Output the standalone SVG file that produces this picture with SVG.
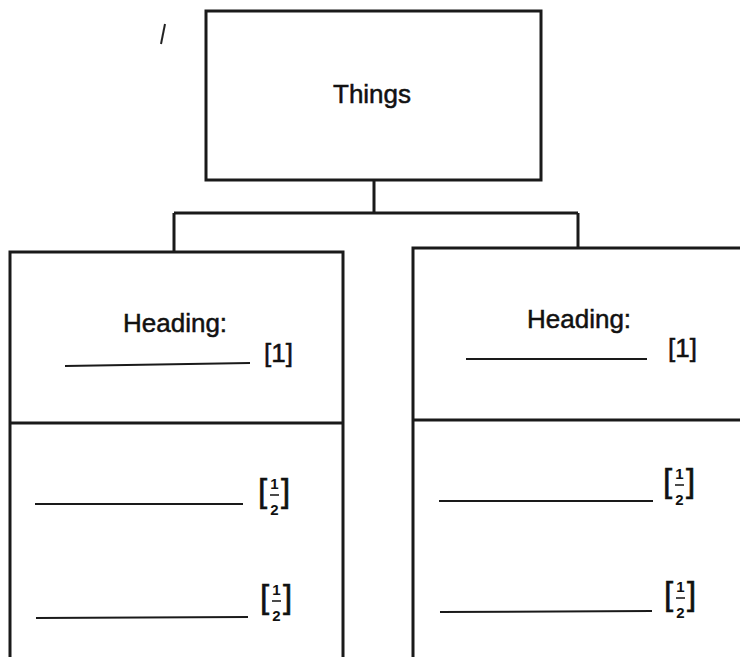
<svg xmlns="http://www.w3.org/2000/svg" width="740" height="657" viewBox="0 0 740 657">
<style>
.box{fill:#fff;stroke:#1a1a1a;stroke-width:3}
.conn{fill:none;stroke:#1a1a1a;stroke-width:3}
.blank{stroke:#1a1a1a;stroke-width:2;fill:none}
.lbl{font-family:"Liberation Sans",Arial,sans-serif;font-size:26px;fill:#111;stroke:#111;stroke-width:0.5}
.br{font-family:"Liberation Sans",Arial,sans-serif;font-size:33px;fill:#111;stroke:#111;stroke-width:0.6}
.num{font-family:"Liberation Sans",Arial,sans-serif;font-size:15px;font-weight:bold;fill:#111;text-anchor:middle}
.bar{stroke:#111;stroke-width:1.5}
</style>
<rect width="740" height="657" fill="#fff"/>
<line x1="165" y1="24" x2="161" y2="44" stroke="#222" stroke-width="2"/>
<g id="connectors">
<path class="conn" d="M374 180 V213 M174 213 H578 M174 213 V252 M578 213 V248"/>
</g>
<g id="things">
<rect class="box" x="206" y="11" width="335" height="169"/>
<text class="lbl" x="333" y="103">Things</text>
</g>
<g id="left">
<rect class="box" x="10" y="252" width="333" height="420"/>
<line class="conn" x1="10" y1="423" x2="343" y2="423"/>
<text class="lbl" x="123" y="332">Heading:</text>
<line class="blank" x1="65" y1="366" x2="250" y2="363"/>
<text class="lbl" x="264" y="362">[1]</text>
<line class="blank" x1="35" y1="504" x2="243" y2="504"/>
<text class="br" x="258" y="502">[</text><text class="br" x="281" y="502">]</text>
<text class="num" x="274.5" y="489">1</text><line class="bar" x1="270" y1="495" x2="279" y2="495"/><text class="num" x="274.5" y="515">2</text>
<line class="blank" x1="36" y1="618" x2="248" y2="617"/>
<text class="br" x="260" y="608">[</text><text class="br" x="283" y="608">]</text>
<text class="num" x="276.5" y="595">1</text><line class="bar" x1="272" y1="601" x2="281" y2="601"/><text class="num" x="276.5" y="621">2</text>
</g>
<g id="right">
<rect class="box" x="413" y="248" width="360" height="424"/>
<line class="conn" x1="413" y1="420" x2="740" y2="420"/>
<text class="lbl" x="527" y="328">Heading:</text>
<line class="blank" x1="466" y1="359" x2="647" y2="359"/>
<text class="lbl" x="668" y="357">[1]</text>
<line class="blank" x1="439" y1="501" x2="653" y2="501"/>
<text class="br" x="663" y="492">[</text><text class="br" x="686" y="492">]</text>
<text class="num" x="679.5" y="479">1</text><line class="bar" x1="675" y1="485" x2="684" y2="485"/><text class="num" x="679.5" y="505">2</text>
<line class="blank" x1="440" y1="612" x2="652" y2="611"/>
<text class="br" x="664" y="605">[</text><text class="br" x="687" y="605">]</text>
<text class="num" x="680.5" y="592">1</text><line class="bar" x1="676" y1="598" x2="685" y2="598"/><text class="num" x="680.5" y="618">2</text>
</g>
</svg>
